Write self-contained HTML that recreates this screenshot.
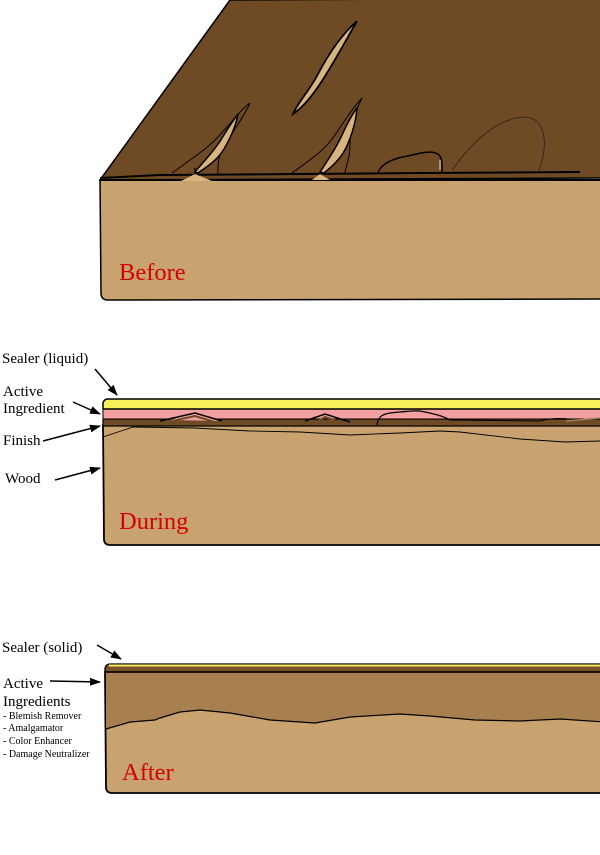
<!DOCTYPE html>
<html><head><meta charset="utf-8"><style>
html,body{margin:0;padding:0;background:#fff;}
svg{display:block;}
text{font-family:"Liberation Serif",serif;}
</style></head><body>
<svg width="600" height="855" viewBox="0 0 600 855" xmlns="http://www.w3.org/2000/svg">
<defs>
<marker id="ah" markerWidth="11" markerHeight="8" refX="10" refY="4" orient="auto" markerUnits="userSpaceOnUse">
<path d="M0,0 L11,4 L0,8 Z" fill="#000"/>
</marker>
</defs>

<!-- ===== BEFORE ===== -->
<path d="M100,180 L230,0 L605,-2 L605,178 Z" fill="#6f4b25" stroke="#000" stroke-width="1.5"/>
<path d="M100,180 L605,180 L605,299 L108,300 Q101,300 101,293 Z" fill="#c8a370" stroke="#000" stroke-width="1.5"/>
<!-- finish lines -->
<path d="M100,178 L160,175 L300,174 L420,173 L580,172" stroke="#000" stroke-width="2" fill="none"/>
<path d="M100,180 L600,180" stroke="#000" stroke-width="2"/>
<!-- crack 1 -->
<path d="M181,181 L195,174 L212,181 Z" fill="#d8b47e"/>
<path d="M172,173 C190,160 205,150 215,140 C230,125 240,110 250,103" stroke="#000" stroke-width="1" fill="none"/>
<path d="M250,103 C240,125 225,140 220,155 C217,165 218,170 218,174" stroke="#000" stroke-width="1" fill="none"/>
<path d="M195,172 C205,160 215,150 222,138 C230,125 235,118 238,114 C236,125 230,140 222,152 C215,162 205,168 198,173 Z" fill="#d8b47e" stroke="#000" stroke-width="1.5"/>
<path d="M195,174 L195,168" stroke="#000" stroke-width="1.5"/>
<!-- crack 2 -->
<path d="M312,180 L320,174 L330,180 Z" fill="#d8b47e"/>
<path d="M292,173 C310,160 325,150 335,135 C345,120 355,105 362,98" stroke="#000" stroke-width="1" fill="none"/>
<path d="M362,98 C355,112 350,130 350,145 C350,160 345,168 345,173" stroke="#000" stroke-width="1" fill="none"/>
<path d="M320,172 C328,160 336,148 342,135 C348,122 353,113 357,108 C356,120 352,135 346,148 C340,160 330,168 324,173 Z" fill="#d8b47e" stroke="#000" stroke-width="1.5"/>
<!-- floating sliver -->
<path d="M357,21 C340,36 328,55 318,74 C310,90 298,102 293,114 C302,108 312,96 320,84 C332,66 345,42 357,21 Z" fill="#d8b47e" stroke="#000" stroke-width="1.8"/>
<!-- blob -->
<path d="M378,172 C383,162 395,158 408,156 C420,153 432,150 438,154 C443,158 442,166 442,172" fill="#6f4b25" stroke="#000" stroke-width="1.5"/>
<path d="M440,160 L440,170" stroke="#ddd" stroke-width="1"/>
<!-- faint arc -->
<path d="M452,170 C470,145 495,118 525,117 C548,118 548,150 538,172" stroke="#222" stroke-width="0.8" fill="none"/>
<text x="119" y="280" font-size="24.5" fill="#d40000">Before</text>

<!-- ===== DURING ===== -->
<path d="M103,425 L605,425 L605,545 L110,545 Q104,545 104,539 Z" fill="#c8a370" stroke="#000" stroke-width="1.8"/>
<path d="M103,419 L605,419 L605,426 L103,426 Z" fill="#6f4b25" stroke="#000" stroke-width="1.2"/>
<path d="M103,409 L605,409 L605,419 L103,419 Z" fill="#f2a0a0" stroke="#000" stroke-width="1"/>
<path d="M103,409 L103,403 Q104,399 108,399 L605,399 L605,409 Z" fill="#f6f05a" stroke="#000" stroke-width="1.5"/>
<!-- bumps in finish -->
<path d="M170,420 L195,413 L220,421 Z" fill="#f2a0a0"/>
<path d="M160,421 L195,413 L222,421" stroke="#000" stroke-width="1.5" fill="none"/>
<path d="M172,421 L195,416 L215,422" stroke="#6f4b25" stroke-width="2" fill="none"/>
<path d="M305,421 L325,414 L350,422" stroke="#000" stroke-width="1.5" fill="none"/>
<path d="M318,421 L325,417 L340,422" stroke="#6f4b25" stroke-width="2" fill="none"/>
<path d="M377,425 C378,416 382,413 400,412 C412,411 418,410 425,412 C435,414 445,417 450,420" stroke="#000" stroke-width="1.3" fill="none"/>
<path d="M450,420 L540,421 C550,418 560,418 570,419" stroke="#000" stroke-width="1" fill="none"/>
<path d="M566,421 L600,418" stroke="#a08060" stroke-width="1.5" fill="none"/>
<path d="M103,437 L133,427 L195,428 L250,431 L300,432 L350,435 L400,433 L440,431 L460,432 L520,439 L565,442 L600,441" stroke="#000" stroke-width="0.9" fill="none"/>
<text x="119" y="529" font-size="24.5" fill="#d40000">During</text>

<!-- labels during -->
<text x="2" y="363" font-size="15" fill="#000">Sealer (liquid)</text>
<line x1="95" y1="369" x2="117" y2="395" stroke="#000" stroke-width="1.5" marker-end="url(#ah)"/>
<text x="3" y="396" font-size="15" fill="#000">Active</text>
<text x="3" y="413" font-size="15" fill="#000">Ingredient</text>
<line x1="73" y1="402" x2="100" y2="414" stroke="#000" stroke-width="1.5" marker-end="url(#ah)"/>
<text x="3" y="445" font-size="15" fill="#000">Finish</text>
<line x1="43" y1="441" x2="100" y2="426" stroke="#000" stroke-width="1.5" marker-end="url(#ah)"/>
<text x="5" y="483" font-size="15" fill="#000">Wood</text>
<line x1="55" y1="480" x2="100" y2="468" stroke="#000" stroke-width="1.5" marker-end="url(#ah)"/>

<!-- ===== AFTER ===== -->
<path d="M105,672 L605,672 L605,793 L112,793 Q106,793 106,787 Z" fill="#c8a370" stroke="#000" stroke-width="1.8"/>
<path d="M106,672 L605,672 L605,722 L560,719 L520,721 L475,720 L430,716 L400,714 L350,717 L315,723 L300,722 L270,720 L230,713 L200,710 L180,712 L160,718 L155,720 L130,722 L106,729 Z" fill="#a8804f"/>
<path d="M106,729 L130,722 L155,720 L160,718 L180,712 L200,710 L230,713 L270,720 L300,722 L315,723 L350,717 L400,714 L430,716 L475,720 L520,721 L560,719 L605,722" stroke="#000" stroke-width="1.2" fill="none"/>
<path d="M105,672 L105,668 Q106,664 110,664 L605,664 L605,672 Z" fill="#7a522a" stroke="#000" stroke-width="1.3"/>
<path d="M109,665.5 L605,665.5" stroke="#f6f05a" stroke-width="2"/>
<line x1="105" y1="672" x2="605" y2="672" stroke="#000" stroke-width="1.5"/>
<text x="122" y="780" font-size="24.5" fill="#d40000">After</text>

<!-- labels after -->
<text x="2" y="652" font-size="15" fill="#000">Sealer (solid)</text>
<line x1="97" y1="645" x2="121" y2="659" stroke="#000" stroke-width="1.5" marker-end="url(#ah)"/>
<text x="3" y="688" font-size="15" fill="#000">Active</text>
<line x1="50" y1="681" x2="100" y2="682" stroke="#000" stroke-width="1.5" marker-end="url(#ah)"/>
<text x="3" y="706" font-size="15" fill="#000">Ingredients</text>
<text x="3" y="719" font-size="10" fill="#000">- Blemish Remover</text>
<text x="3" y="731" font-size="10" fill="#000">- Amalgamator</text>
<text x="3" y="744" font-size="10" fill="#000">- Color Enhancer</text>
<text x="3" y="757" font-size="10" fill="#000">- Damage Neutralizer</text>
</svg>
</body></html>
